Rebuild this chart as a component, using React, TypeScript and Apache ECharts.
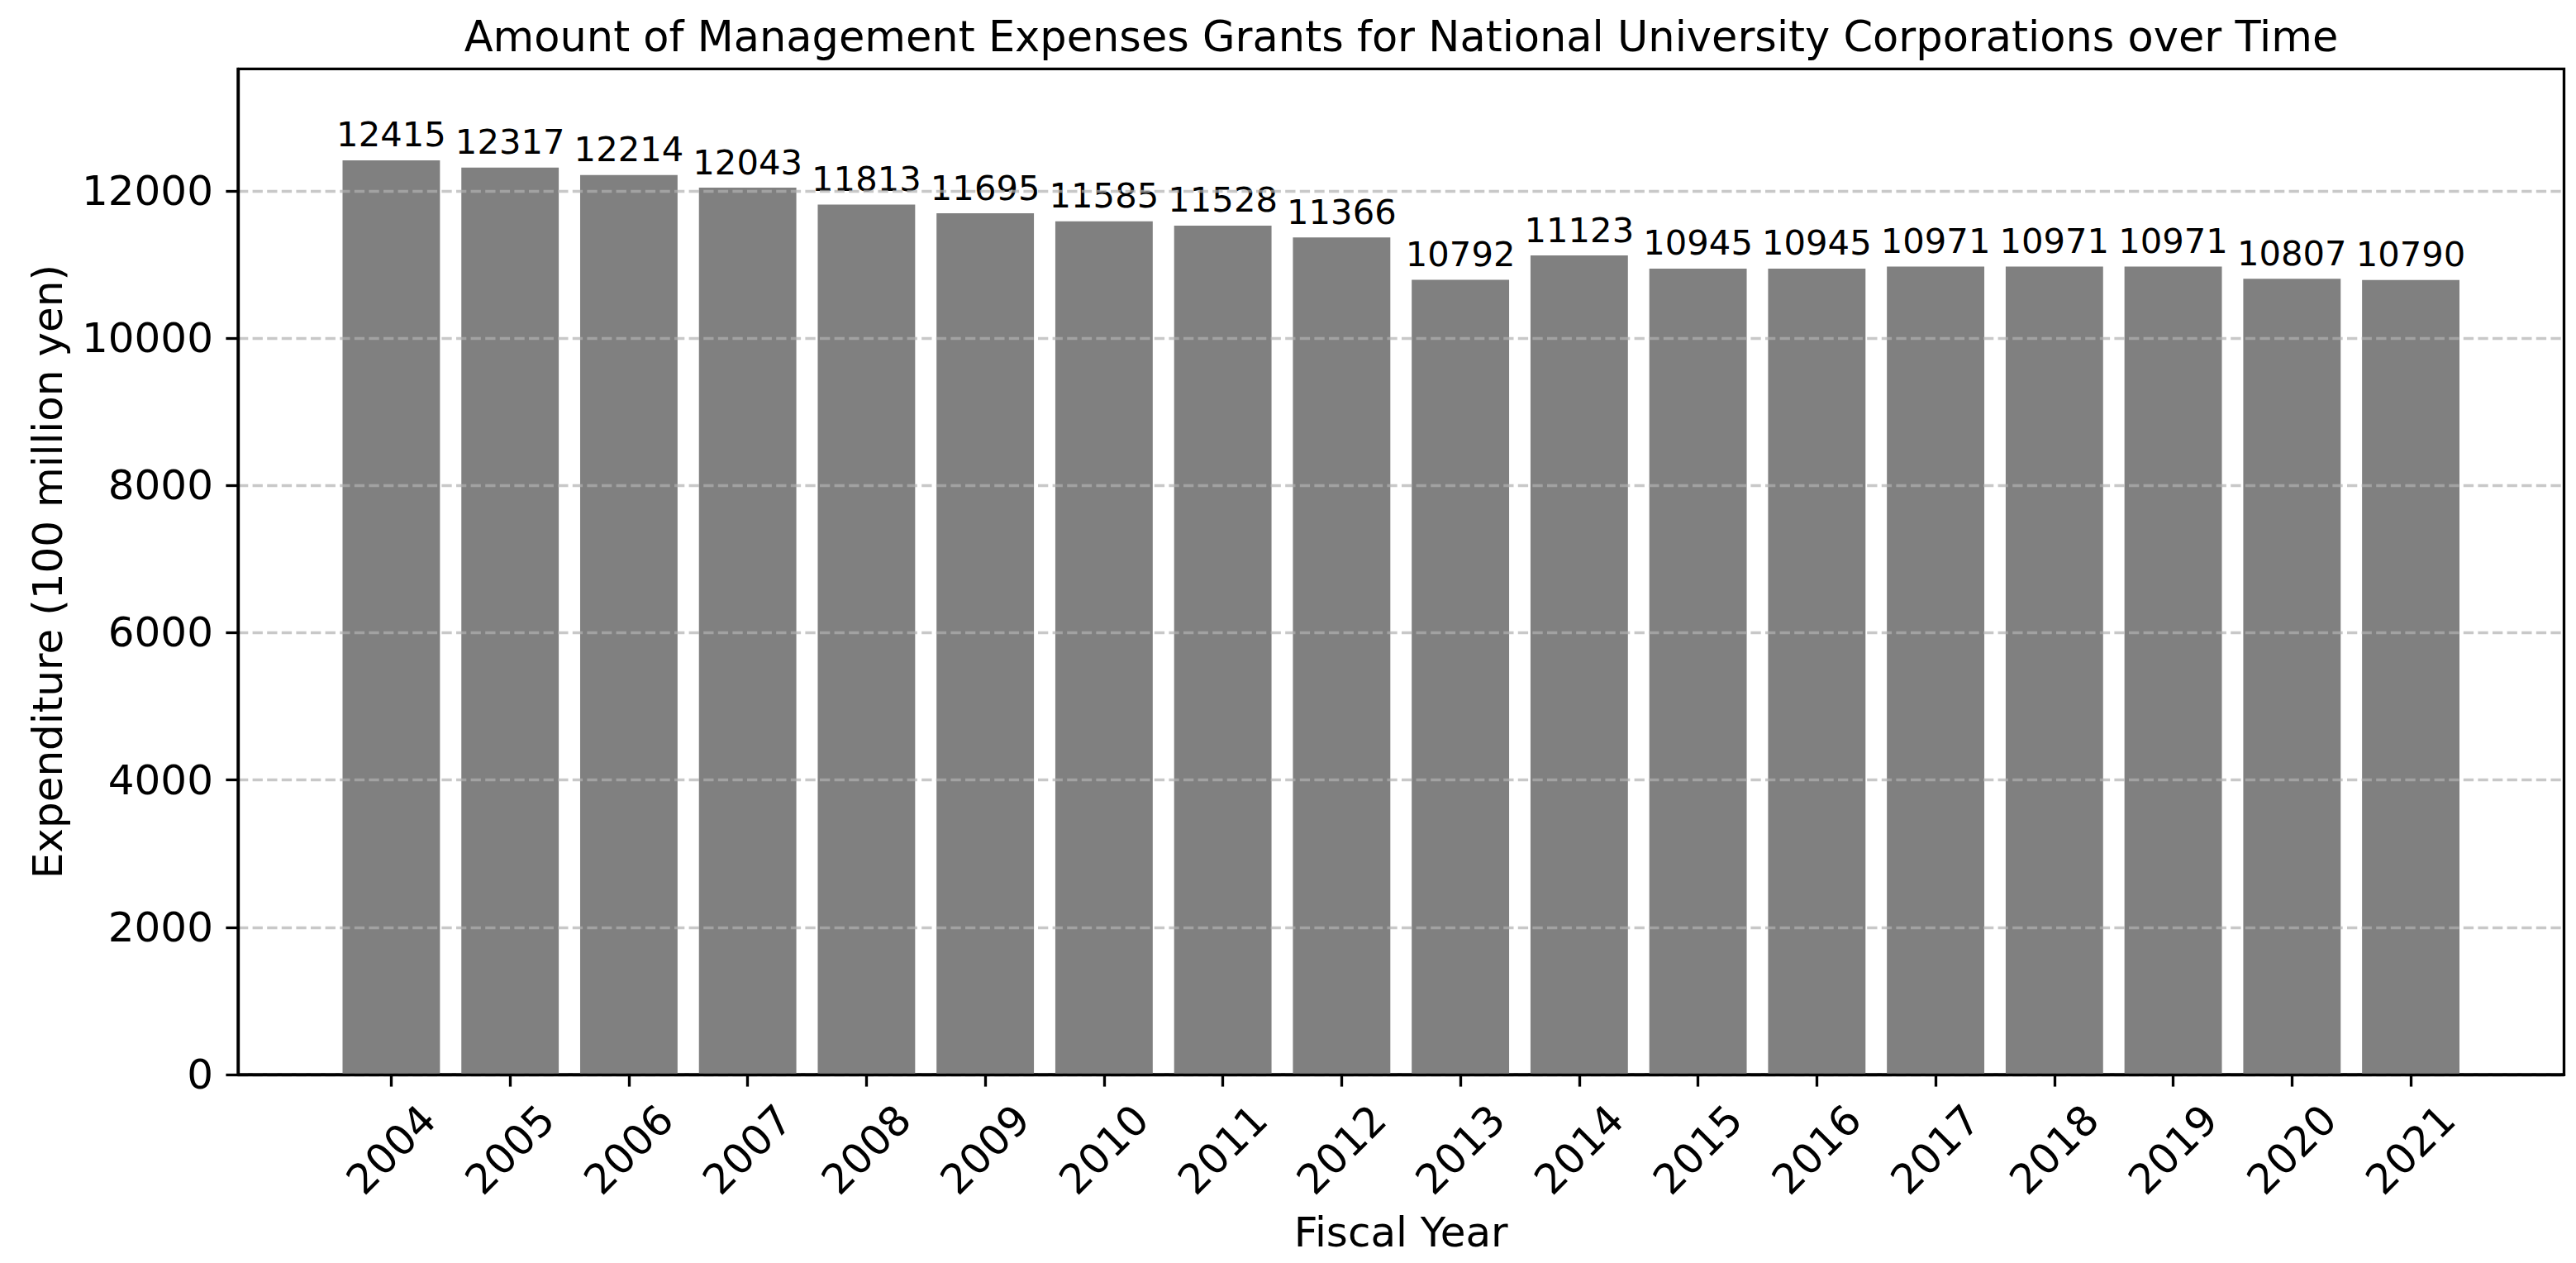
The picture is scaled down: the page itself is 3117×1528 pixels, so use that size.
import { useEffect, useRef } from "react";
import * as echarts from "echarts";

const years = [
  "2004", "2005", "2006", "2007", "2008", "2009", "2010", "2011", "2012",
  "2013", "2014", "2015", "2016", "2017", "2018", "2019", "2020", "2021",
];
const grants = [
  12415, 12317, 12214, 12043, 11813, 11695, 11585, 11528, 11366,
  10792, 11123, 10945, 10945, 10971, 10971, 10971, 10807, 10790,
];
const yTicks = [0, 2000, 4000, 6000, 8000, 10000, 12000];

const FONT = "DejaVu Sans";
const LW = 3.33;

export default function App() {
  const chartRef = useRef<HTMLDivElement>(null);

  useEffect(() => {
    if (!chartRef.current) return;
    const chart = echarts.init(chartRef.current, null, { renderer: "svg" });

    const positions = years.map((_, i) => i);
    // matplotlib style limits: bars 0..n-1, 5% margins
    const xMin = -0.4 - 0.05 * (years.length - 1 + 0.8);
    const xMax = years.length - 1 + 0.4 + 0.05 * (years.length - 1 + 0.8);
    const yMax = Math.max(...grants) * 1.1;

    const option: echarts.EChartsOption = {
      animation: false,
      backgroundColor: "#ffffff",
      textStyle: { fontFamily: FONT },
      title: {
        text: "Amount of Management Expenses Grants for National University Corporations over Time",
        left: 1695.5,
        top: 19,
        textAlign: "center",
        padding: 0,
        textStyle: { fontFamily: FONT, fontSize: 51, fontWeight: "normal", color: "#000" },
      },
      grid: {
        left: 288,
        right: 14.5,
        top: 83.3,
        bottom: 228,
        show: true,
        borderColor: "#000",
        borderWidth: LW,
        backgroundColor: "transparent",
      },
      xAxis: {
        type: "value",
        min: xMin,
        max: xMax,
        z: 10,
        name: "Fiscal Year",
        nameLocation: "middle",
        nameGap: 166,
        nameTextStyle: { fontFamily: FONT, fontSize: 50, color: "#000" },
        axisLine: { show: true, onZero: false, lineStyle: { color: "#000", width: LW } },
        axisTick: {
          show: true,
          inside: false,
          length: 14.6,
          lineStyle: { color: "#000", width: LW },
          customValues: positions,
        },
        axisLabel: {
          customValues: positions,
          rotate: 45,
          align: "center",
          verticalAlign: "middle",
          margin: 91,
          fontFamily: FONT,
          fontSize: 50,
          color: "#000",
          formatter: (v: number) => years[Math.round(v)] ?? "",
        },
        splitLine: { show: false },
      },
      yAxis: {
        type: "value",
        min: 0,
        max: yMax,
        z: 10,
        name: "Expenditure (100 million yen)",
        nameLocation: "middle",
        nameGap: 205,
        nameTextStyle: { fontFamily: FONT, fontSize: 50, color: "#000" },
        axisLine: { show: true, onZero: false, lineStyle: { color: "#000", width: LW } },
        axisTick: {
          show: true,
          inside: false,
          length: 14.6,
          lineStyle: { color: "#000", width: LW },
          customValues: yTicks,
        },
        axisLabel: {
          customValues: yTicks,
          margin: 30,
          fontFamily: FONT,
          fontSize: 50,
          color: "#000",
          formatter: (v: number) => String(v),
        },
        splitLine: { show: false },
      },
      series: [
        {
          type: "bar",
          data: grants.map((v, i) => [i, v]),
          barWidth: "82%",
          itemStyle: { color: "#808080" },
          label: {
            show: true,
            position: "top",
            distance: 10,
            fontFamily: FONT,
            fontSize: 41.7,
            color: "#000",
            formatter: (p: any) => String(p.value[1]),
          },
          markLine: {
            silent: true,
            symbol: "none",
            label: { show: false },
            lineStyle: {
              color: "rgba(176,176,176,0.7)",
              width: LW,
              type: [12.3, 5.3],
            },
            data: yTicks.map((v) => ({ yAxis: v })),
          },
        },
      ],
    };

    chart.setOption(option);
    return () => {
      chart.dispose();
    };
  }, []);

  return (
    <div
      ref={chartRef}
      style={{ position: "absolute", left: 0, top: 0, width: 3117, height: 1528 }}
    />
  );
}
